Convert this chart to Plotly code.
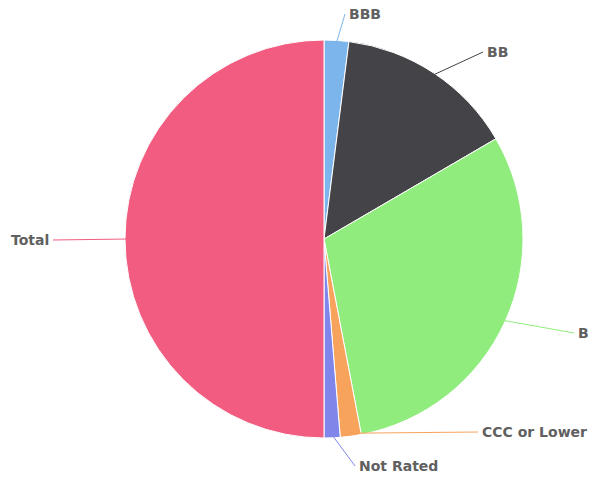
import math
import plotly.graph_objects as go

labels = ["BBB", "BB", "B", "CCC or Lower", "Not Rated", "Total"]
values = [2.0, 14.6, 30.4, 1.7, 1.3, 50.0]
colors = ["#7cb5ec", "#434348", "#90ed7d", "#f7a35c", "#8085e9", "#f15c80"]

W, H = 598, 477
cx, cy, R = 324, 239, 199
# label text anchor positions (layout, pixels from top-left) and alignment
label_pos = [(345, 14, "left"), (483, 52, "left"), (574, 333, "left"),
             (478, 432, "left"), (355, 466, "left"), (53, 240, "right")]

fig = go.Figure(go.Pie(
    labels=labels, values=values, sort=False, direction="clockwise", rotation=0,
    marker=dict(colors=colors, line=dict(color="#ffffff", width=1)),
    textinfo="none", hoverinfo="label+percent", showlegend=False,
    domain=dict(x=[(cx - R) / W, (cx + R) / W], y=[(H - cy - R) / H, (H - cy + R) / H]),
))

total = sum(values)
cum = 0.0
annotations = []
for lab, v, col, (tx, ty, anc) in zip(labels, values, colors, label_pos):
    mid = 2 * math.pi * (cum + v / 2) / total
    cum += v
    px = cx + (R - 3) * math.sin(mid)
    py = cy - (R - 3) * math.cos(mid)
    annotations.append(dict(
        x=px / W, y=1 - py / H, xref="paper", yref="paper",
        ax=tx - px, ay=ty - py, axref="pixel", ayref="pixel",
        xanchor=anc, yanchor="middle", borderpad=3,
        text=lab, showarrow=True, arrowhead=0, arrowwidth=1, arrowcolor=col,
        font=dict(family="DejaVu Sans", size=14, color="#606060", weight="bold"),
    ))

fig.update_layout(
    width=W, height=H, margin=dict(l=0, r=0, t=0, b=0),
    paper_bgcolor="#ffffff", plot_bgcolor="#ffffff",
    annotations=annotations,
)
fig.write_html("out.html", config={"displayModeBar": False},
               post_script="document.body.style.margin='0px';")
